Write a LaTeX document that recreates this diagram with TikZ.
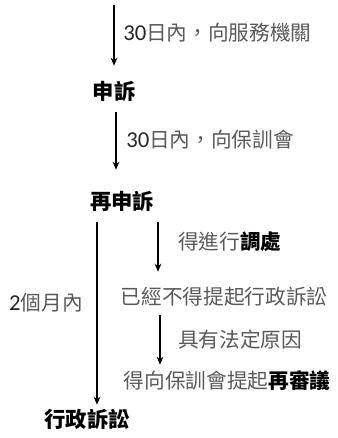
\documentclass[tikz,border=0pt]{standalone}
\usepackage{fontspec}
\setmainfont{Carlito}
\newfontfamily\cjk{Noto Sans CJK TC}
\newfontfamily\digits[Scale=1.1]{Carlito}
\usetikzlibrary{calc,positioning,arrows.meta}

\newcommand{\num}[1]{{\digits\color{black!85}#1}}
\newcommand{\hl}[1]{{\bfseries\color{black}#1}}

\begin{document}
\begin{tikzpicture}[
    x=0.75pt, y=-0.75pt,
    stage/.style={font=\cjk\bfseries\fontsize{16}{16}\selectfont, inner sep=0pt, text height=12.5pt, text depth=1pt},
    note/.style={font=\cjk\fontsize{15.5}{16}\selectfont, text=black!65, inner sep=0pt, text height=12.5pt, text depth=1pt},
    arr/.style={line width=1.1pt, -{Stealth[length=6pt, width=5pt]}},
  ]
  \useasboundingbox (0,0) rectangle (337,438);

  % main stages
  \coordinate (start) at (114,5);
  \node[stage] (shensu) at (114,92) {申訴};
  \node[stage] (zaishen) at (122,202) {再申訴};
  \node[stage] (susong) at (87,420) {行政訴訟};

  % side results
  \node[note] (buzhun) at (224,297) {已經不得提起行政訴訟};
  \node[note] (shenyi) at (227,381) {得向保訓會提起\hl{再審議}};

  % main arrows
  \draw[arr] (start) -- ($(shensu.north)+(0,-17)$);
  \draw[arr] ($(shensu.south)+(2,11)$) -- ($(zaishen.north)+(-6,-23)$);
  \draw[arr] ($(zaishen.south)+(-25,11)$) -- ($(susong.north)+(10,-6)$);

  % side arrows
  \draw[arr] ($(zaishen.south)+(36,11)$) -- ($(buzhun.north)+(-66,-16)$);
  \draw[arr] ($(buzhun.south)+(-64,9)$) -- ($(shenyi.north)+(-67,-7)$);

  % labels
  \node[note, anchor=west] (l1) at (123,33) {\num{30}日內，向服務機關};
  \node[note, anchor=west] (l2) at (126,140) {\num{30}日內，向保訓會};
  \node[note, anchor=east] (l3) at (83,303) {\num{2}個月內};
  \node[note, anchor=west] (l4) at (178,242) {得進行\hl{調處}};
  \node[note, anchor=west] (l5) at (178,340) {具有法定原因};

\end{tikzpicture}
\end{document}
